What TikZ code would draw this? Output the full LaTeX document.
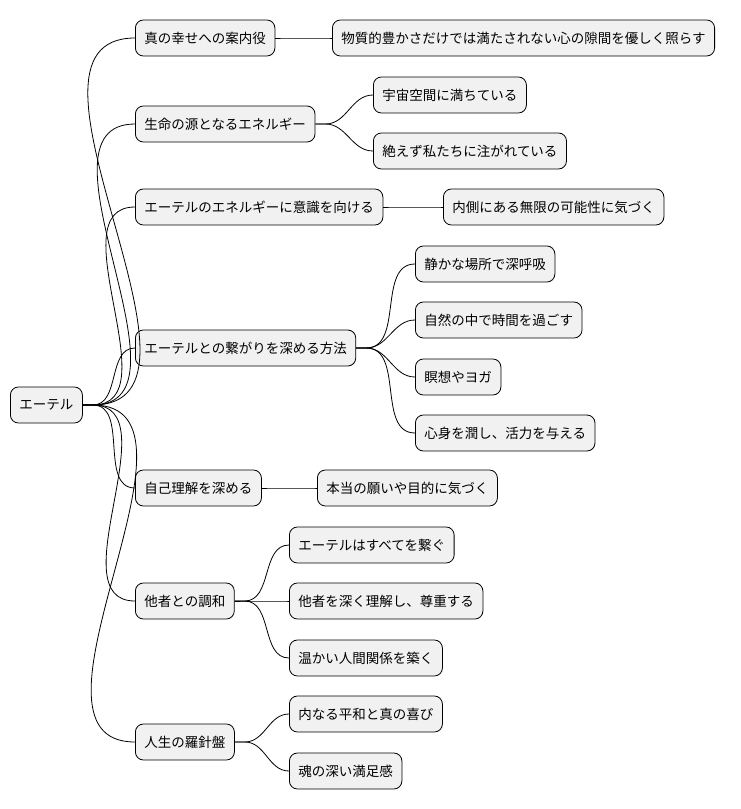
\documentclass[tikz,border=0pt]{standalone}
\usepackage{fontspec}
\setmainfont{Noto Sans CJK JP}
\begin{document}
\begin{tikzpicture}[x=1pt,y=-1pt,
  box/.style={draw=black,fill={rgb,255:red,241;green,241;blue,241},rounded corners=8pt,line width=0.8pt,minimum height=36pt,inner xsep=9pt,anchor=west,font=\fontsize{13.5}{16}\selectfont},
  link/.style={draw=black,line width=0.8pt}]
\useasboundingbox (0,0) rectangle (740,809);
\node[box] (r) at (10,405) {エーテル};
\node[box] (a) at (135,38) {真の幸せへの案内役};
\node[box] (b) at (135,124) {生命の源となるエネルギー};
\node[box] (c) at (135,207) {エーテルのエネルギーに意識を向ける};
\node[box] (d) at (135,348) {エーテルとの繋がりを深める方法};
\node[box] (e) at (135,488) {自己理解を深める};
\node[box] (f) at (135,601) {他者との調和};
\node[box] (g) at (135,742) {人生の羅針盤};
\node[box] (a1) at (332,38) {物質的豊かさだけでは満たされない心の隙間を優しく照らす};
\node[box] (b1) at (373,95) {宇宙空間に満ちている};
\node[box] (b2) at (373,151) {絶えず私たちに注がれている};
\node[box] (c1) at (443,207) {内側にある無限の可能性に気づく};
\node[box] (d1) at (415,264) {静かな場所で深呼吸};
\node[box] (d2) at (415,320) {自然の中で時間を過ごす};
\node[box] (d3) at (415,377) {瞑想やヨガ};
\node[box] (d4) at (415,433) {心身を潤し、活力を与える};
\node[box] (e1) at (317,488) {本当の願いや目的に気づく};
\node[box] (f1) at (289,545) {エーテルはすべてを繋ぐ};
\node[box] (f2) at (289,601) {他者を深く理解し、尊重する};
\node[box] (f3) at (289,658) {温かい人間関係を築く};
\node[box] (g1) at (289,714) {内なる平和と真の喜び};
\node[box] (g2) at (289,771) {魂の深い満足感};
\foreach \p/\c in {r/a,r/b,r/c,r/d,r/e,r/f,r/g,a/a1,b/b1,b/b2,c/c1,d/d1,d/d2,d/d3,d/d4,e/e1,f/f1,f/f2,f/f3,g/g1,g/g2}
  \draw[link] (\p.east) -- ++(10,0) to[out=0,in=180] (\c.west);
\end{tikzpicture}
\end{document}
